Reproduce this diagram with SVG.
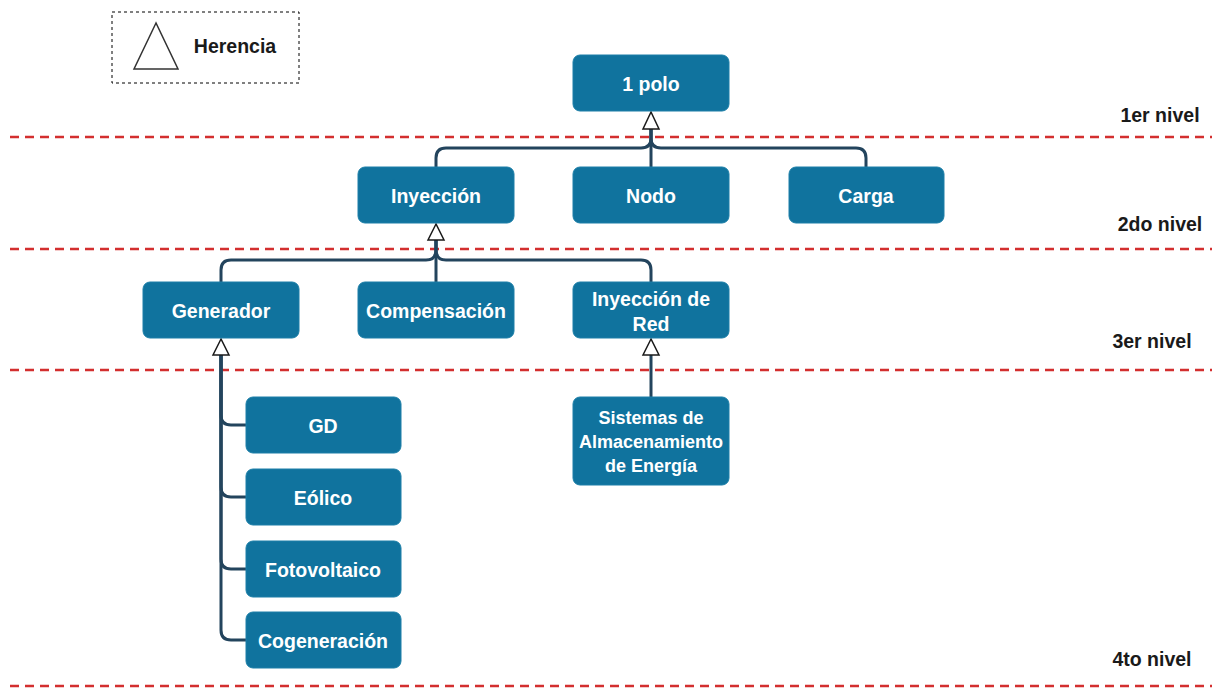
<svg xmlns="http://www.w3.org/2000/svg" width="1212" height="689" viewBox="0 0 1212 689">
  <style>
    .node rect { fill: #10739E; stroke: #1c7fa8; stroke-width: 1; }
    .node text { fill: #ffffff; font-family: "Liberation Sans", Arial, sans-serif; font-weight: bold; font-size: 19.5px; text-anchor: middle; dominant-baseline: central; }
    .node text.small { font-size: 18px; }
    .level { fill: #1a1a1a; font-family: "Liberation Sans", Arial, sans-serif; font-weight: bold; font-size: 19.5px; text-anchor: middle; dominant-baseline: central; }
    .sep { stroke: #d32f2f; stroke-width: 2.5; stroke-dasharray: 9 6; fill: none; }
    .edge { stroke: #23445D; stroke-width: 3; fill: none; }
    .head { fill: #ffffff; stroke: #1a1a1a; stroke-width: 1.5; stroke-linejoin: miter; }
  </style>

  <!-- legend -->
  <g id="legend">
    <rect x="112" y="12" width="187" height="71" fill="none" stroke="#000000" stroke-width="1" stroke-dasharray="3 3"/>
    <polygon points="156,23 134,69 178,69" fill="#ffffff" stroke="#333333" stroke-width="1.5"/>
    <text x="235" y="46" class="level">Herencia</text>
  </g>

  <!-- level separators -->
  <g id="separators">
    <line class="sep" x1="10" y1="137" x2="1212" y2="137"/>
    <line class="sep" x1="10" y1="249" x2="1212" y2="249"/>
    <line class="sep" x1="10" y1="370" x2="1212" y2="370"/>
    <line class="sep" x1="10" y1="686" x2="1212" y2="686"/>
  </g>

  <!-- level labels -->
  <g id="levels">
    <text class="level" x="1160" y="115">1er nivel</text>
    <text class="level" x="1160" y="224">2do nivel</text>
    <text class="level" x="1152" y="341">3er nivel</text>
    <text class="level" x="1152" y="659">4to nivel</text>
  </g>

  <!-- inheritance connectors -->
  <g id="connectors">
    <path class="edge" d="M436,167 V158 Q436,148 446,148 H641 Q651,148 651,138 V129"/>
    <path class="edge" d="M651,167 V129"/>
    <path class="edge" d="M866,167 V158 Q866,148 856,148 H661 Q651,148 651,138 V129"/>
    <polygon class="head" points="651,112 643,129 659,129"/>

    <path class="edge" d="M221,282 V270 Q221,260 231,260 H426 Q436,260 436,250 V240"/>
    <path class="edge" d="M436,282 V240"/>
    <path class="edge" d="M651,282 V270 Q651,260 641,260 H446 Q436,260 436,250 V240"/>
    <polygon class="head" points="436,224 428,240 444,240"/>

    <path class="edge" d="M246,425 H231 Q221,425 221,415 V355"/>
    <path class="edge" d="M246,497 H231 Q221,497 221,487 V355"/>
    <path class="edge" d="M246,569 H231 Q221,569 221,559 V355"/>
    <path class="edge" d="M246,640 H231 Q221,640 221,630 V355"/>
    <polygon class="head" points="221,339 213,355 229,355"/>

    <path class="edge" d="M651,397 V355"/>
    <polygon class="head" points="651,339 643,355 659,355"/>
  </g>

  <!-- level 1 -->
  <g id="polo" class="node">
    <rect x="573" y="55" width="156" height="56" rx="7"/>
    <text x="651" y="84">1 polo</text>
  </g>

  <!-- level 2 -->
  <g id="inyeccion" class="node">
    <rect x="358" y="167" width="156" height="56" rx="7"/>
    <text x="436" y="196">Inyección</text>
  </g>
  <g id="nodo" class="node">
    <rect x="573" y="167" width="156" height="56" rx="7"/>
    <text x="651" y="196">Nodo</text>
  </g>
  <g id="carga" class="node">
    <rect x="789" y="167" width="155" height="56" rx="7"/>
    <text x="866" y="196">Carga</text>
  </g>

  <!-- level 3 -->
  <g id="generador" class="node">
    <rect x="143" y="282" width="156" height="56" rx="7"/>
    <text x="221" y="311">Generador</text>
  </g>
  <g id="compensacion" class="node">
    <rect x="358" y="282" width="156" height="56" rx="7"/>
    <text x="436" y="311">Compensación</text>
  </g>
  <g id="inyeccion-red" class="node">
    <rect x="573" y="282" width="156" height="56" rx="7"/>
    <text x="651" y="299">Inyección de</text>
    <text x="651" y="324">Red</text>
  </g>

  <!-- level 4 -->
  <g id="gd" class="node">
    <rect x="246" y="397" width="155" height="56" rx="7"/>
    <text x="323" y="426">GD</text>
  </g>
  <g id="eolico" class="node">
    <rect x="246" y="469" width="155" height="56" rx="7"/>
    <text x="323" y="498">Eólico</text>
  </g>
  <g id="fotovoltaico" class="node">
    <rect x="246" y="541" width="155" height="56" rx="7"/>
    <text x="323" y="570">Fotovoltaico</text>
  </g>
  <g id="cogeneracion" class="node">
    <rect x="246" y="612" width="155" height="56" rx="7"/>
    <text x="323" y="641">Cogeneración</text>
  </g>
  <g id="almacenamiento" class="node">
    <rect x="573" y="397" width="156" height="88" rx="7"/>
    <text class="small" x="651" y="418">Sistemas de</text>
    <text class="small" x="651" y="442">Almacenamiento</text>
    <text class="small" x="651" y="466">de Energía</text>
  </g>
</svg>
